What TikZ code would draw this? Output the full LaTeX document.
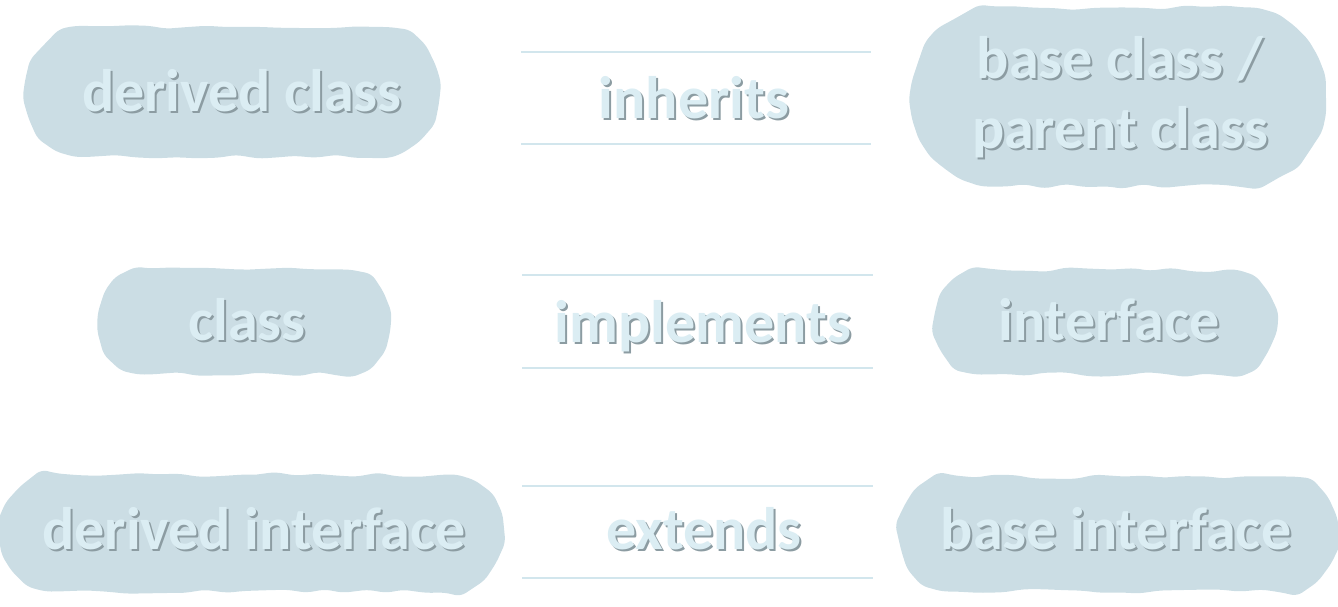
\documentclass[tikz,border=0pt]{standalone}
\usepackage{fontspec}
\setmainfont{Carlito}
\usetikzlibrary{shapes.misc}
\usetikzlibrary{decorations.pathmorphing}

\definecolor{blobfill}{RGB}{203,221,228}
\definecolor{labeltext}{RGB}{219,237,243}
\definecolor{shadowgray}{RGB}{140,156,162}
\definecolor{rulecol}{RGB}{210,230,237}

% text with a small drop shadow
\newcommand{\shd}[1]{\makebox[0pt][l]{\hspace{2pt}\raisebox{-2pt}{\textcolor{shadowgray}{#1}}}\textcolor{labeltext}{#1}}

\tikzset{
  blob/.style={rounded rectangle, rounded rectangle arc length=160, fill=blobfill,
    inner sep=0pt, rounded corners=6pt, decorate,
    decoration={random steps, segment length=20pt, amplitude=2.5pt}},
  word/.style={inner sep=0pt, font=\fontsize{60}{70}\selectfont\bfseries, align=center},
  relbox/.style={minimum width=350pt, minimum height=91pt, inner sep=0pt},
  rule/.style={draw=rulecol, line width=1.8pt}
}

\begin{document}
\begin{tikzpicture}[x=1pt, y=-1pt]
    \pgfmathsetseed{11}
    \useasboundingbox (0,0) rectangle (1338,607);

    % draw blobs
    \node[blob, minimum width=411pt, minimum height=130pt] (derivedc) at (232,92) {};
    \node[blob, minimum width=414pt, minimum height=179pt] (basec) at (1119,97) {};
    \node[blob, minimum width=288pt, minimum height=105pt] (cls) at (244,322) {};
    \node[blob, minimum width=338pt, minimum height=105pt] (iface) at (1106,322) {};
    \node[blob, minimum width=498pt, minimum height=117pt] (derivedi) at (251,533) {};
    \node[blob, minimum width=436pt, minimum height=115pt] (basei) at (1118,534) {};

    % draw words
    \node[word] (derivedct) at (242,92) {\shd{derived class}};
    \node[word] (basect) at (1120,98) {\shd{base class /}\\\shd{parent class}};
    \node[word] (clst) at (247,321) {\shd{class}};
    \node[word] (ifacet) at (1109,321) {\shd{interface}};
    \node[word] (derivedit) at (254,530) {\shd{derived interface}};
    \node[word] (baseit) at (1116,530) {\shd{base interface}};

    % draw relations
    \node[relbox] (inh) at (696,98) {};
    \node[relbox, minimum height=93pt] (impl) at (697.5,321.5) {};
    \node[relbox] (ext) at (697.5,532) {};
    \node[word] (inht) at (694,99) {\shd{inherits}};
    \node[word] (implt) at (703,327) {\shd{implements}};
    \node[word] (extt) at (704,530) {\shd{extends}};

    % draw horizontal lines
    \foreach \n in {inh,impl,ext}
      \draw[rule] (\n.north west) -- (\n.north east) (\n.south west) -- (\n.south east);
\end{tikzpicture}
\end{document}
